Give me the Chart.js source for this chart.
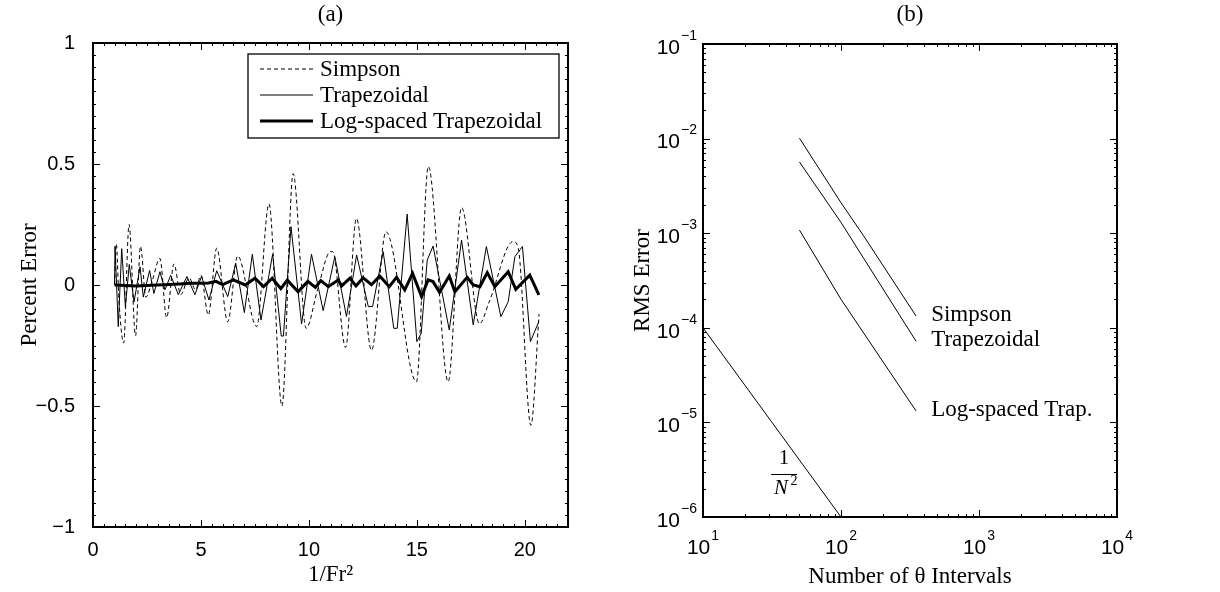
<!DOCTYPE html>
<html>
<head>
<meta charset="utf-8">
<script src="https://cdn.jsdelivr.net/npm/chart.js@4.4.1/dist/chart.umd.min.js"></script>
<style>
  html, body { margin: 0; padding: 0; background: #fff; }
  #wrap { position: relative; width: 1220px; height: 592px; }
  #boxA { position: absolute; left: 0; top: 0; width: 600px; height: 592px; }
  #boxB { position: absolute; left: 600px; top: 0; width: 620px; height: 592px; }
</style>
</head>
<body>
<div id="wrap">
  <div id="boxA"><canvas id="chartA" width="600" height="592"></canvas></div>
  <div id="boxB"><canvas id="chartB" width="620" height="592"></canvas></div>
</div>
<script>
// panel (a): percent error vs 1/Fr^2
const simpsonX = [1.0, 1.08, 1.2, 1.42, 1.67, 1.97, 2.2, 2.45, 2.75, 3.1, 3.41, 3.75, 4.06, 4.45, 4.75, 5.0, 5.34, 5.73, 6.24, 6.7, 7.58, 8.15, 8.75, 9.27, 9.87, 10.4, 11.0, 11.1, 11.7, 12.2, 12.9, 13.57, 14.98, 15.53, 16.45, 17.07, 17.9, 18.35, 19.46, 19.7, 20.28, 20.66];
const simpsonY = [0.0, 0.17, -0.06, -0.24, 0.25, -0.21, 0.16, -0.05, 0.02, 0.11, -0.135, 0.087, -0.04, 0.03, -0.02, 0.04, -0.124, 0.152, -0.152, 0.12, -0.172, 0.335, -0.5, 0.46, -0.179, -0.02, 0.138, 0.138, -0.258, 0.275, -0.27, 0.22, -0.40, 0.49, -0.40, 0.32, -0.16, -0.07, 0.18, 0.15, -0.58, -0.12];

const trapX = [1.0, 1.02, 1.17, 1.33, 1.5, 1.68, 1.9, 2.18, 2.33, 2.62, 2.82, 3.1, 3.33, 3.6, 3.95, 4.35, 4.72, 5.03, 5.37, 5.73, 6.24, 6.61, 7.01, 7.38, 7.78, 8.32, 8.72, 8.82, 9.17, 9.66, 10.12, 10.66, 11.2, 11.74, 12.21, 12.75, 12.95, 13.44, 13.93, 14.09, 14.55, 15.0, 15.2, 15.48, 15.75, 16.5, 17.07, 17.61, 18.22, 18.89, 19.23, 19.54, 19.89, 20.26, 20.65];
const trapY = [0.0, 0.16, -0.172, 0.15, -0.09, 0.085, -0.07, 0.075, -0.05, 0.06, -0.035, 0.055, -0.02, 0.04, -0.04, 0.035, -0.04, 0.036, -0.062, 0.059, -0.048, 0.09, -0.114, 0.127, -0.145, 0.127, -0.211, -0.211, 0.241, -0.161, 0.127, -0.106, 0.117, -0.13, 0.124, -0.089, -0.089, 0.138, -0.179, -0.179, 0.293, -0.234, -0.2, 0.103, 0.161, -0.186, 0.186, -0.165, 0.159, -0.131, -0.069, 0.117, 0.159, -0.234, -0.151];

const logTrapX = [1.0, 2.0, 3.0, 4.0, 4.5, 5.0, 5.35, 5.7, 6.0, 6.5, 7.05, 7.5, 7.9, 8.3, 8.7, 9.0, 9.5, 9.95, 10.3, 10.55, 10.9, 11.36, 11.51, 11.9, 12.18, 12.51, 12.9, 13.28, 13.72, 14.06, 14.44, 14.8, 15.22, 15.52, 15.75, 16.05, 16.5, 16.76, 17.33, 17.61, 17.92, 18.26, 18.61, 19.23, 19.58, 20.23, 20.65];
const logTrapY = [0.0, -0.004, 0.0, 0.004, 0.007, 0.007, 0.008, 0.015, 0.002, 0.021, 0.0, 0.028, -0.007, 0.028, -0.015, 0.02, -0.028, 0.015, -0.01, 0.018, -0.007, 0.021, -0.004, 0.028, -0.004, 0.03, 0.001, 0.037, -0.007, 0.032, -0.02, 0.048, -0.048, 0.021, 0.014, -0.03, 0.037, -0.028, 0.032, 0.0, -0.007, 0.051, -0.007, 0.055, -0.018, 0.041, -0.041];

const froudeTicks = [0, 5, 10, 15, 20];
const errorTicks = [-1, -0.5, 0, 0.5, 1];

// panel (b): RMS error vs number of theta intervals
const intervalsSimpson = [50, 100, 145, 350];
const rmsSimpson = [1.01e-2, 2.1e-3, 9.5e-4, 1.33e-4];
const intervalsTrap = [50, 100, 350];
const rmsTrap = [5.66e-3, 1.3e-3, 7.2e-5];
const intervalsLogTrap = [50, 100, 350];
const rmsLogTrap = [1.08e-3, 2.0e-4, 1.32e-5];
const intervalsRef = [10, 100];
const rmsRef = [1e-4, 1e-6];
const intervalTickExp = [1, 2, 3, 4];
const rmsTickExp = [-6, -5, -4, -3, -2, -1];

const SANS = '"Liberation Sans", Arial, sans-serif';
const SERIF = '"Liberation Serif", "Times New Roman", serif';
const SERIF_SIZE = 23;

const pts = (xs, ys) => xs.map((x, i) => ({ x, y: ys[i] }));
const minus = s => String(s).replace('-', '\u2212');

function range(a, b, step){
  const out = [];
  for (let i = 0; a + i * step <= b + 1e-9; i++) out.push(+(a + i * step).toFixed(6));
  return out;
}
function logMinor(fromExp, toExp){
  const out = [];
  for (let e = fromExp; e < toExp; e++) for (let k = 2; k <= 9; k++) out.push(k * Math.pow(10, e));
  return out;
}

// box with inward ticks on all four sides, plus the panel label
const framePlugin = {
  id: 'frame',
  afterDatasetsDraw(chart, args, o){
    const { ctx, chartArea: a } = chart;
    const sx = chart.scales.x, sy = chart.scales.y;
    ctx.save();
    ctx.strokeStyle = '#000';
    ctx.lineWidth = 1;
    ctx.beginPath();
    const xm = (list, len) => list.forEach(v => {
      const p = Math.round(sx.getPixelForValue(v)) + 0.5;
      ctx.moveTo(p, a.bottom); ctx.lineTo(p, a.bottom - len);
      ctx.moveTo(p, a.top); ctx.lineTo(p, a.top + len);
    });
    const ym = (list, len) => list.forEach(v => {
      const p = Math.round(sy.getPixelForValue(v)) + 0.5;
      ctx.moveTo(a.left, p); ctx.lineTo(a.left + len, p);
      ctx.moveTo(a.right, p); ctx.lineTo(a.right - len, p);
    });
    xm(o.xMajor, 7); xm(o.xMinor, 3);
    ym(o.yMajor, 7); ym(o.yMinor, 3);
    ctx.stroke();
    ctx.lineWidth = 2;
    ctx.strokeRect(a.left, a.top, a.right - a.left, a.bottom - a.top);
    ctx.fillStyle = '#000';
    ctx.font = SERIF_SIZE + 'px ' + SERIF;
    ctx.textAlign = 'center';
    ctx.textBaseline = 'middle';
    ctx.fillText(o.label, (a.left + a.right) / 2, 15);
    ctx.restore();
  }
};

// legend box of panel (a)
const legendPlugin = {
  id: 'legendBox',
  afterDatasetsDraw(chart){
    if (chart.canvas.id !== 'chartA') return;
    const { ctx, chartArea: a } = chart;
    const w = 311, h = 84;
    const left = a.right - 9 - w, top = a.top + 11;
    ctx.save();
    ctx.fillStyle = '#fff';
    ctx.fillRect(left, top, w, h);
    ctx.strokeStyle = '#000';
    ctx.lineWidth = 1.3;
    ctx.strokeRect(left, top, w, h);
    ctx.font = SERIF_SIZE + 'px ' + SERIF;
    ctx.textBaseline = 'middle';
    ctx.textAlign = 'left';
    chart.data.datasets.forEach((ds, i) => {
      const yy = top + 15 + i * 26;
      ctx.beginPath();
      ctx.lineWidth = ds.borderWidth;
      ctx.setLineDash(ds.borderDash || []);
      ctx.moveTo(left + 12, yy);
      ctx.lineTo(left + 65, yy);
      ctx.stroke();
      ctx.setLineDash([]);
      ctx.fillStyle = '#000';
      ctx.fillText(ds.label, left + 72, yy + 1);
    });
    ctx.restore();
  }
};

// power-of-ten tick labels and curve annotations of panel (b)
const powerLabelsPlugin = {
  id: 'powerLabels',
  afterDraw(chart){
    if (chart.canvas.id !== 'chartB') return;
    const { ctx, chartArea: a } = chart;
    const sx = chart.scales.x, sy = chart.scales.y;
    const baseFont = '21px ' + SANS, expFont = '14px ' + SANS;
    ctx.save();
    ctx.fillStyle = '#000';
    ctx.textBaseline = 'middle';
    rmsTickExp.forEach(e => {
      const p = sy.getPixelForValue(Math.pow(10, e));
      const exp = minus(e);
      ctx.font = expFont;
      const ew = ctx.measureText(exp).width;
      const end = a.left - 6;
      ctx.textAlign = 'right';
      ctx.fillText(exp, end, p - 8);
      ctx.font = baseFont;
      ctx.fillText('10', end - ew - 1, p + 4);
    });
    intervalTickExp.forEach(e => {
      const p = sx.getPixelForValue(Math.pow(10, e));
      const exp = String(e);
      ctx.font = baseFont;
      const bw = ctx.measureText('10').width;
      ctx.font = expFont;
      const ew = ctx.measureText(exp).width;
      const start = p - (bw + ew + 1) / 2;
      ctx.textAlign = 'left';
      ctx.font = baseFont;
      ctx.fillText('10', start, a.bottom + 31);
      ctx.font = expFont;
      ctx.fillText(exp, start + bw + 1, a.bottom + 19);
    });

    ctx.font = SERIF_SIZE + 'px ' + SERIF;
    ctx.textAlign = 'left';
    const tx = sx.getPixelForValue(450);
    ctx.fillText('Simpson', tx, sy.getPixelForValue(1.36e-4));
    ctx.fillText('Trapezoidal', tx, sy.getPixelForValue(7.4e-5));
    ctx.fillText('Log-spaced Trap.', tx, sy.getPixelForValue(1.35e-5));

    // 1/N^2 label next to the reference slope
    const fx = sx.getPixelForValue(38.7);
    ctx.textAlign = 'center';
    ctx.font = '21px ' + SERIF;
    ctx.fillText('1', fx, sy.getPixelForValue(4.2e-6));
    const by = Math.round(sy.getPixelForValue(2.85e-6)) + 0.5;
    ctx.beginPath();
    ctx.lineWidth = 1;
    ctx.moveTo(fx - 13, by); ctx.lineTo(fx + 13, by);
    ctx.stroke();
    const ny = sy.getPixelForValue(2.0e-6);
    ctx.font = 'italic 21px ' + SERIF;
    ctx.fillText('N', fx - 3, ny);
    ctx.font = '14px ' + SERIF;
    ctx.fillText('2', fx + 10, ny - 7);
    ctx.restore();
  }
};

Chart.register(framePlugin, legendPlugin, powerLabelsPlugin);

new Chart(document.getElementById('chartA'), {
  type: 'line',
  data: {
    datasets: [
      { label: 'Simpson', data: pts(simpsonX, simpsonY), borderColor: '#000', borderWidth: 1, borderDash: [4, 3], cubicInterpolationMode: 'monotone', pointRadius: 0 },
      { label: 'Trapezoidal', data: pts(trapX, trapY), borderColor: '#000', borderWidth: 1, tension: 0, pointRadius: 0 },
      { label: 'Log-spaced Trapezoidal', data: pts(logTrapX, logTrapY), borderColor: '#000', borderWidth: 3, tension: 0, pointRadius: 0 }
    ]
  },
  options: {
    responsive: false,
    animation: false,
    devicePixelRatio: 1,
    layout: { padding: { left: 0, top: 43, right: 32, bottom: 0 } },
    plugins: {
      legend: { display: false },
      tooltip: { enabled: false },
      frame: { label: '(a)', xMajor: froudeTicks, xMinor: range(0, 22, 0.5), yMajor: errorTicks, yMinor: range(-1, 1, 0.05) }
    },
    scales: {
      x: {
        type: 'linear', min: 0, max: 22,
        afterBuildTicks: s => { s.ticks = froudeTicks.map(v => ({ value: v })); },
        afterFit: s => { s.height = 65; },
        grid: { display: false }, border: { display: false },
        ticks: { color: '#000', padding: 3, font: { family: SANS, size: 20 } },
        title: { display: true, text: '1/Fr\u00b2', color: '#000', font: { family: SERIF, size: SERIF_SIZE }, padding: { top: 0, bottom: 3 } }
      },
      y: {
        type: 'linear', min: -1, max: 1,
        afterBuildTicks: s => { s.ticks = errorTicks.map(v => ({ value: v })); },
        afterFit: s => { s.width = 93; },
        grid: { display: false }, border: { display: false },
        ticks: { color: '#000', padding: 10, font: { family: SANS, size: 20 }, callback: v => minus(v) },
        title: { display: true, text: 'Percent Error', color: '#000', font: { family: SERIF, size: SERIF_SIZE }, padding: { top: 16, bottom: 0 } }
      }
    }
  }
});

new Chart(document.getElementById('chartB'), {
  type: 'line',
  data: {
    datasets: [
      { label: 'Simpson', data: pts(intervalsSimpson, rmsSimpson), borderColor: '#000', borderWidth: 1, pointRadius: 0 },
      { label: 'Trapezoidal', data: pts(intervalsTrap, rmsTrap), borderColor: '#000', borderWidth: 1, pointRadius: 0 },
      { label: 'Log-spaced Trap.', data: pts(intervalsLogTrap, rmsLogTrap), borderColor: '#000', borderWidth: 1, pointRadius: 0 },
      { label: '1/N\u00b2', data: pts(intervalsRef, rmsRef), borderColor: '#000', borderWidth: 1, pointRadius: 0 }
    ]
  },
  options: {
    responsive: false,
    animation: false,
    devicePixelRatio: 1,
    layout: { padding: { left: 0, top: 44, right: 103, bottom: 0 } },
    plugins: {
      legend: { display: false },
      tooltip: { enabled: false },
      frame: {
        label: '(b)',
        xMajor: intervalTickExp.map(e => Math.pow(10, e)), xMinor: logMinor(1, 4),
        yMajor: rmsTickExp.map(e => Math.pow(10, e)), yMinor: logMinor(-6, -1)
      }
    },
    scales: {
      x: {
        type: 'logarithmic', min: 10, max: 10000,
        afterFit: s => { s.height = 75; },
        grid: { display: false }, border: { display: false },
        ticks: { display: false },
        title: { display: true, text: 'Number of \u03b8 Intervals', color: '#000', font: { family: SERIF, size: SERIF_SIZE }, padding: { top: 0, bottom: 1 } }
      },
      y: {
        type: 'logarithmic', min: 1e-6, max: 1e-1,
        afterFit: s => { s.width = 103; },
        grid: { display: false }, border: { display: false },
        ticks: { display: false },
        title: { display: true, text: 'RMS Error', color: '#000', font: { family: SERIF, size: SERIF_SIZE }, padding: { top: 29, bottom: 0 } }
      }
    }
  }
});
</script>
</body>
</html>
